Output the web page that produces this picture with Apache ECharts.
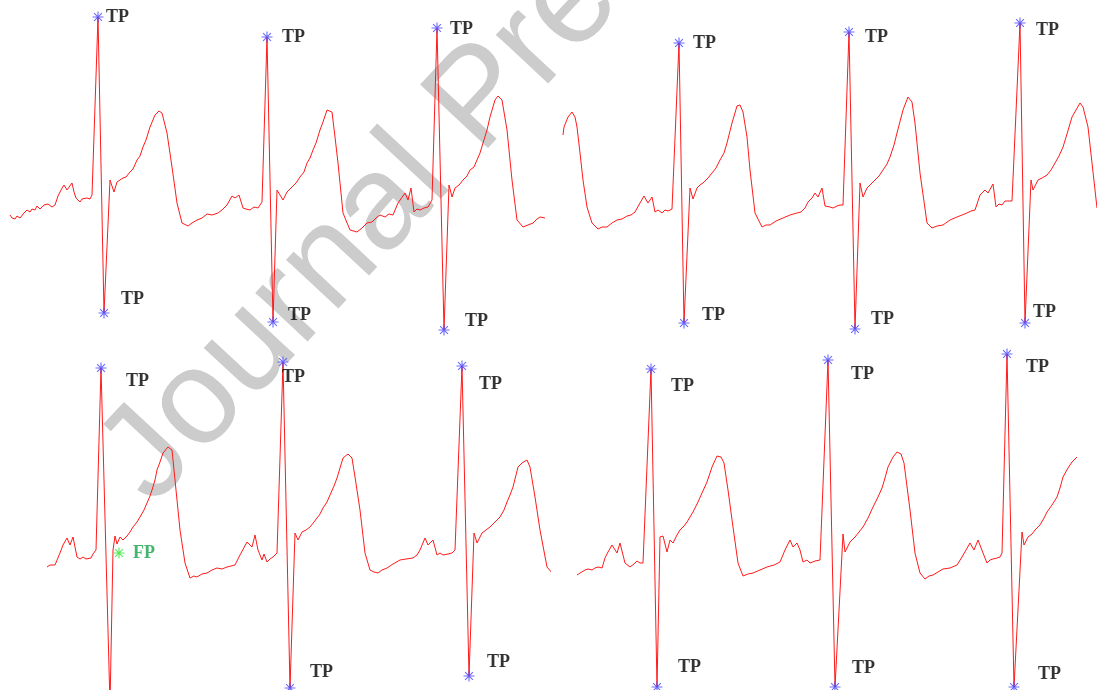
<!DOCTYPE html>
<html><head><meta charset="utf-8">
<script src="https://cdn.jsdelivr.net/npm/echarts@6/dist/echarts.min.js"></script>
<style>html,body{margin:0;padding:0;background:#fff;overflow:hidden}#c{width:1097px;height:690px}</style>
</head><body><div id="c"></div>
<script>
// ECG traces: [sample, amplitude] per panel
const ecgTL = [[10,125],[12,122],[15,121],[17,124],[20,122],[24,127],[27,130],[30,128],[32,131],[35,130],[37,134],[40,131],[42,132],[44,135],[46,133],[48,136],[50,135],[52,133],[55,135],[58,144],[61,150],[64,155],[67,150],[69,152],[72,157],[74,148],[76,142],[78,140],[80,138],[82,141],[84,140],[87,142],[90,141],[92,145],[98,323],[104,27],[110,160],[114,148],[117,158],[120,160],[123,162],[126,163],[130,168],[133,171],[137,180],[140,184],[143,193],[146,200],[150,213],[155,225],[159,229],[162,227],[167,207],[172,173],[177,137],[182,117],[188,114],[192,117],[197,120],[202,122],[207,126],[212,125],[218,127],[222,130],[227,135],[232,144],[235,142],[239,145],[243,132],[246,131],[250,130],[254,133],[258,132],[262,138],[267,303],[273,18],[277,150],[279,152],[283,140],[287,148],[292,153],[296,157],[300,163],[304,168],[307,177],[310,182],[313,190],[316,197],[320,210],[323,218],[327,230],[329,232],[332,228],[335,203],[338,177],[343,127],[350,110],[357,108],[362,112],[367,117],[372,118],[376,122],[380,125],[385,123],[389,126],[393,125],[398,137],[405,147],[408,140],[411,152],[414,128],[417,131],[420,130],[424,132],[428,133],[432,140],[437,312],[444,10],[449,155],[452,143],[455,152],[459,155],[463,160],[467,164],[470,170],[474,173],[477,180],[480,187],[483,197],[487,210],[490,223],[495,240],[498,244],[502,240],[507,210],[512,160],[517,120],[523,113],[528,115],[533,117],[537,121],[540,123],[545,122]];
const ecgTR = [[13,205],[14,213],[18,223],[22,228],[25,223],[27,213],[30,187],[33,160],[37,133],[42,117],[48,111],[52,113],[57,113],[62,117],[67,120],[72,121],[77,124],[81,125],[85,128],[90,137],[94,144],[98,137],[102,143],[105,128],[108,130],[112,127],[115,130],[118,129],[122,131],[129,297],[134,17],[140,152],[143,141],[147,152],[150,155],[153,157],[158,162],[162,167],[166,172],[170,180],[174,187],[177,197],[182,217],[187,234],[190,235],[193,228],[197,203],[200,170],[205,127],[212,113],[216,115],[220,115],[226,119],[233,122],[240,125],[247,127],[251,128],[255,132],[258,138],[262,142],[265,147],[268,143],[272,152],[275,134],[280,133],[283,132],[287,134],[290,135],[293,135],[299,308],[305,11],[310,157],[313,143],[317,152],[321,156],[325,160],[329,164],[333,170],[337,176],[340,183],[344,195],[347,207],[353,230],[358,243],[362,238],[365,217],[370,167],[377,117],[382,112],[387,114],[393,115],[400,120],[407,123],[412,125],[417,127],[421,129],[425,130],[430,145],[435,150],[438,147],[443,156],[446,133],[449,136],[452,135],[455,139],[457,138],[462,139],[470,317],[475,17],[481,160],[483,150],[488,160],[492,162],[497,165],[501,170],[505,177],[509,184],[513,193],[517,206],[522,223],[530,237],[533,233],[538,213],[547,132]];
const ecgBL = [[47,123],[50,125],[52,126],[55,125],[57,127],[60,137],[63,145],[67,152],[70,145],[73,153],[77,133],[80,131],[82,130],[83,133],[86,131],[88,133],[91,132],[93,136],[96,140],[101,322],[110,-15],[113,140],[115,154],[117,146],[120,153],[123,150],[127,154],[130,158],[133,163],[137,168],[140,173],[144,180],[147,187],[150,194],[152,200],[155,210],[157,220],[160,228],[163,237],[168,243],[172,240],[175,210],[180,160],[185,127],[190,112],[194,114],[197,113],[202,116],[207,117],[212,120],[217,122],[222,121],[227,123],[231,124],[235,125],[240,135],[247,148],[249,150],[252,143],[255,155],[258,140],[262,130],[264,136],[267,128],[270,131],[273,133],[277,137],[283,328],[290,2],[295,157],[298,150],[302,158],[306,160],[310,163],[314,168],[317,172],[320,176],[323,182],[327,188],[330,195],[334,204],[337,212],[340,222],[343,232],[348,236],[352,232],[355,213],[360,180],[365,137],[370,120],[374,118],[378,117],[382,120],[387,122],[393,126],[400,130],[406,131],[413,132],[417,135],[420,140],[425,152],[428,145],[433,150],[437,135],[440,137],[443,135],[448,136],[452,137],[455,140],[462,324],[469,14],[474,157],[477,147],[482,157],[486,160],[490,163],[495,168],[500,173],[504,180],[507,188],[510,195],[513,203],[518,223],[522,227],[527,230],[530,223],[535,193],[540,160],[547,123],[553,116],[558,117],[563,121]];
const ecgBR = [[27,115],[30,117],[32,118],[35,120],[38,121],[42,120],[45,122],[48,123],[52,122],[55,132],[58,138],[62,145],[67,137],[70,147],[75,127],[80,123],[84,126],[87,129],[90,127],[93,127],[101,321],[107,3],[110,153],[113,154],[117,138],[120,150],[123,147],[127,155],[130,160],[134,164],[137,168],[140,173],[143,178],[148,188],[152,197],[157,208],[162,223],[167,234],[171,233],[174,227],[178,200],[183,163],[188,127],[193,114],[198,116],[203,117],[210,120],[217,123],[224,125],[230,128],[235,140],[240,150],[243,143],[247,147],[250,140],[253,128],[257,130],[260,127],[265,129],[270,130],[272,132],[278,330],[285,3],[293,156],[295,138],[300,148],[305,153],[309,158],[313,163],[318,172],[323,183],[328,193],[332,202],[335,212],[338,223],[343,233],[347,238],[351,236],[354,227],[360,180],[365,137],[370,117],[375,111],[379,114],[383,115],[388,118],[393,121],[400,122],[407,125],[412,133],[420,147],[424,140],[428,150],[433,137],[437,127],[440,130],[443,131],[447,132],[450,133],[452,137],[457,336],[464,3],[472,158],[474,145],[478,153],[482,156],[485,160],[490,165],[494,172],[497,178],[502,185],[507,193],[510,202],[513,213],[518,222],[522,228],[527,233]];

// Detected peaks (true positives) and false positive
const tpTL = [[98,323],[104,27],[267,303],[273,18],[437,312],[444,10]];
const tpTR = [[129,297],[134,17],[299,308],[305,11],[470,317],[475,17]];
const tpBL = [[101,322],[283,328],[290,2],[462,324],[469,14]];
const tpBR = [[101,321],[107,3],[278,330],[285,3],[457,336],[464,3]];
const fpBL = [[119,137]];
const tpText = 'TP';
const fpText = 'FP';
const watermarkText = 'Journal Pre-proof';

// label placement (style)
const offTL = [[8,0],[17,-14],[15,0],[15,-7],[13,1],[21,-9]];
const offTR = [[14,0],[18,-8],[16,5],[16,-10],[16,7],[8,-11]];
const offBL = [[25,13],[-1,15],[20,-16],[17,18],[18,-14]];
const offBR = [[20,17],[21,-20],[23,14],[17,-19],[19,13],[24,-13]];
const offFP = [[14,0]];

const STAR = 'path://M0,4.5L10,4.5L10,5.5L0,5.5Z M4.5,0L5.5,0L5.5,10L4.5,10Z M1.1,1.8L1.8,1.1L8.9,8.2L8.2,8.9Z M8.2,1.1L8.9,1.8L1.8,8.9L1.1,8.2Z';

const grids = [
  {left:0, top:0, width:550, height:340},
  {left:550, top:0, width:547, height:340},
  {left:0, top:340, width:550, height:350},
  {left:550, top:340, width:547, height:350}
];
const xMax = [550,547,550,547];
const yMax = [340,340,350,350];
const traces = [ecgTL, ecgTR, ecgBL, ecgBR];
const tps = [tpTL, tpTR, tpBL, tpBR];
const offs = [offTL, offTR, offBL, offBR];

const series = [];
traces.forEach((d,i)=>{
  series.push({type:'line', xAxisIndex:i, yAxisIndex:i, data:d, showSymbol:false, symbol:'none',
    lineStyle:{color:'#ff1a1a', width:1}, animation:false, clip:true, z:2});
  series.push({type:'scatter', xAxisIndex:i, yAxisIndex:i, symbol:STAR, symbolSize:11, clip:false,
    itemStyle:{color:'#4646ff'}, animation:false, z:3,
    data: tps[i].map((p,k)=>({value:p, label:{offset:offs[i][k]}})),
    label:{show:true, formatter:tpText, position:'inside', align:'left', verticalAlign:'middle',
      fontFamily:'Liberation Serif', fontWeight:'bold', fontSize:18, color:'#000'}});
});
series.push({type:'scatter', xAxisIndex:2, yAxisIndex:2, symbol:STAR, symbolSize:11, clip:false,
  itemStyle:{color:'#2fe02f'}, animation:false, z:3,
  data: fpBL.map((p,k)=>({value:p, label:{offset:offFP[k]}})),
  label:{show:true, formatter:fpText, position:'inside', align:'left', verticalAlign:'middle',
    fontFamily:'Liberation Serif', fontWeight:'bold', fontSize:18, color:'#17a24a'}});

const chart = echarts.init(document.getElementById('c'), null, {renderer:'canvas'});
chart.setOption({
  backgroundColor:'#ffffff',
  animation:false,
  grid: grids,
  xAxis: grids.map((g,i)=>({type:'value', gridIndex:i, min:0, max:xMax[i], show:false})),
  yAxis: grids.map((g,i)=>({type:'value', gridIndex:i, min:0, max:yMax[i], show:false})),
  graphic:[{type:'text', x:175, y:528, rotation:47*Math.PI/180, z:1, silent:true,
    style:{text:watermarkText, x:0, y:0, align:'left', verticalAlign:'bottom',
      font:'135px "Liberation Sans", Arial, sans-serif', fill:'#cccccc'}}],
  series: series
});
</script></body></html>
